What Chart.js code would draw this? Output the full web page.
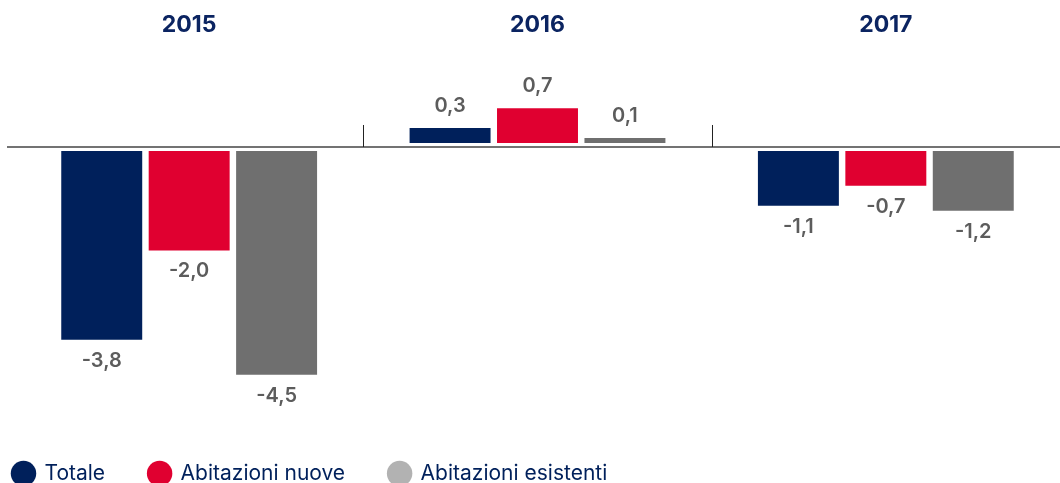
<!DOCTYPE html>
<html>
<head>
<meta charset="utf-8">
<script src="https://cdn.jsdelivr.net/npm/chart.js@4"></script>
<style>
  html, body { margin: 0; padding: 0; background: #fff; }
</style>
</head>
<body>
<canvas id="grafico" width="1060" height="483"></canvas>
<script>
// dati
const anni = ["2015", "2016", "2017"];
const serie = ["Totale", "Abitazioni nuove", "Abitazioni esistenti"];
const totale = [-3.8, 0.3, -1.1];
const nuove = [-2.0, 0.7, -0.7];
const esistenti = [-4.5, 0.1, -1.2];

const blu = "#00205b";
const rosso = "#e00030";
const grigio = "#6f6f6f";
const coloriLegenda = [blu, rosso, "#b2b2b2"];
const GAP = 4; // spazio tra barre e linea dello zero

const virgola = v => v.toFixed(1).replace(".", ",");

const ritocchi = {
  id: "ritocchi",
  beforeDatasetsDraw(chart) {
    // stacca le barre dalla linea dello zero
    chart.data.datasets.forEach((ds, i) => {
      chart.getDatasetMeta(i).data.forEach((bar, j) => {
        const s = ds.data[j] >= 0 ? -GAP : GAP;
        bar.y += s;
        bar.base += s;
      });
    });
  },
  afterDatasetsDraw(chart) {
    const ctx = chart.ctx;
    const sx = chart.scales.x;
    const y0 = chart.scales.y.getPixelForValue(0);

    ctx.save();
    // linea dello zero
    ctx.strokeStyle = "#737373";
    ctx.lineWidth = 2;
    ctx.beginPath();
    ctx.moveTo(7, y0);
    ctx.lineTo(chart.width, y0);
    ctx.stroke();

    // separatori tra gli anni
    ctx.strokeStyle = "#222";
    ctx.lineWidth = 1;
    for (let i = 1; i < anni.length; i++) {
      const xs = Math.round((sx.getPixelForValue(i - 1) + sx.getPixelForValue(i)) / 2) + 0.5;
      ctx.beginPath();
      ctx.moveTo(xs, y0 - 22);
      ctx.lineTo(xs, y0);
      ctx.stroke();
    }

    // etichette valori
    ctx.fillStyle = "#5c5c5c";
    ctx.font = "600 20px Inter";
    ctx.textAlign = "center";
    ctx.textBaseline = "middle";
    chart.data.datasets.forEach((ds, i) => {
      chart.getDatasetMeta(i).data.forEach((bar, j) => {
        const v = ds.data[j];
        const ty = v >= 0 ? bar.y - 22 : bar.y + 21;
        ctx.fillText(virgola(v), bar.x, ty);
        // rimetto a posto
        const s = v >= 0 ? -GAP : GAP;
        bar.y -= s;
        bar.base -= s;
      });
    });
    ctx.restore();
  }
};

function disegna() {
  new Chart("grafico", {
    type: "bar",
    data: {
      labels: anni,
      datasets: [
        { label: serie[0], data: totale, backgroundColor: blu },
        { label: serie[1], data: nuove, backgroundColor: rosso },
        { label: serie[2], data: esistenti, backgroundColor: grigio }
      ]
    },
    options: {
      responsive: false,
      animation: false,
      events: [],
      categoryPercentage: 0.753,
      barPercentage: 0.926,
      layout: { padding: { left: -31, right: 0, top: 0, bottom: -11 } },
      scales: {
        x: {
          position: "top",
          grid: { display: false, drawTicks: false },
          border: { display: false },
          ticks: {
            color: "#0b2461",
            font: { family: "Inter", size: 23, weight: "700" },
            padding: 9
          },
          afterFit: s => { s.height = 48; }
        },
        y: {
          min: -5.473,
          max: 1.992,
          grid: { display: false, drawTicks: false },
          border: { display: false },
          ticks: { display: false },
          afterFit: s => { s.width = 46; }
        }
      },
      plugins: {
        tooltip: { enabled: false },
        legend: {
          position: "bottom",
          align: "start",
          labels: {
            usePointStyle: true,
            boxWidth: 21,
            boxHeight: 18,
            padding: 44,
            color: blu,
            font: { family: "Inter", size: 21 },
            generateLabels: () => serie.map((nome, i) => ({
              text: nome,
              fillStyle: coloriLegenda[i],
              strokeStyle: coloriLegenda[i],
              lineWidth: 0,
              pointStyle: "circle",
              fontColor: blu,
              hidden: false,
              datasetIndex: i
            }))
          }
        }
      }
    },
    plugins: [ritocchi]
  });
}

Promise.all([
  document.fonts.load("700 23px Inter"),
  document.fonts.load("600 20px Inter"),
  document.fonts.load("21px Inter")
]).then(disegna, disegna);
</script>
</body>
</html>
